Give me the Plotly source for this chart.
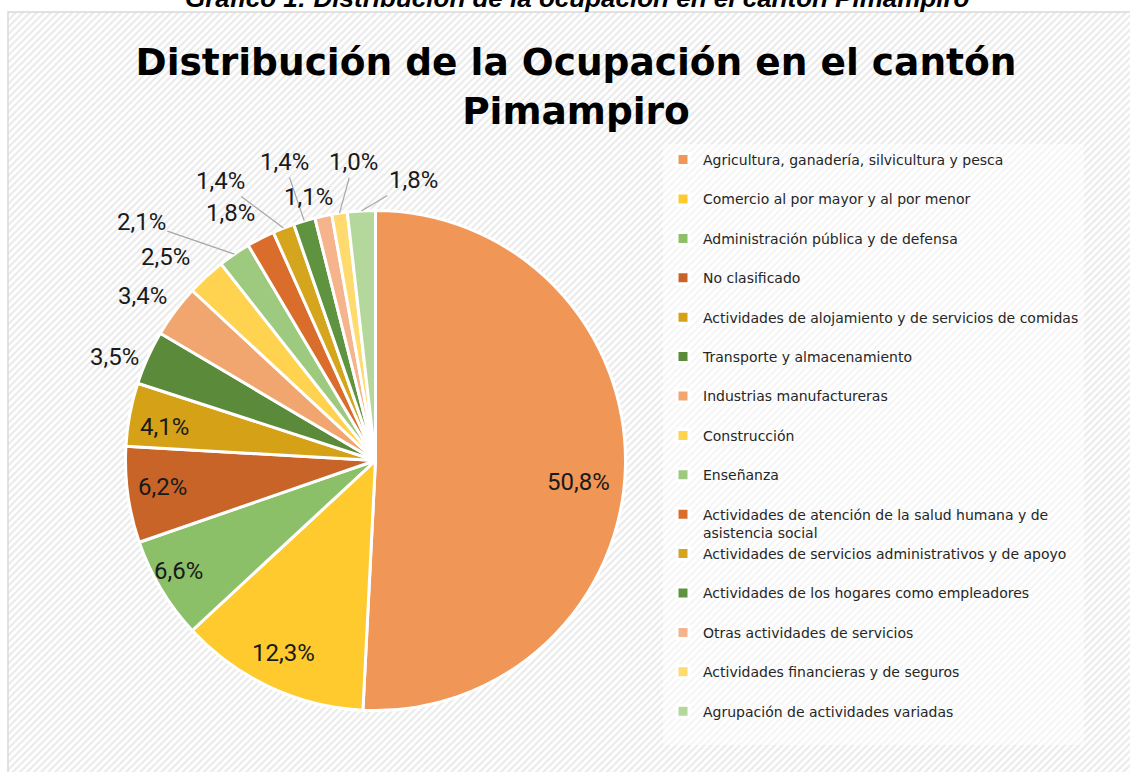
import math
import plotly.graph_objects as go

# ---------------- data ----------------
categories = [
    "Agricultura, ganadería, silvicultura y pesca",
    "Comercio al por mayor y al por menor",
    "Administración pública y de defensa",
    "No clasificado",
    "Actividades de alojamiento y de servicios de comidas",
    "Transporte y almacenamiento",
    "Industrias manufactureras",
    "Construcción",
    "Enseñanza",
    "Actividades de atención de la salud humana y de asistencia social",
    "Actividades de servicios administrativos y de apoyo",
    "Actividades de los hogares como empleadores",
    "Otras actividades de servicios",
    "Actividades financieras y de seguros",
    "Agrupación de actividades variadas",
]
percentages = [50.8, 12.3, 6.6, 6.2, 4.1, 3.5, 3.4, 2.5, 2.1, 1.8, 1.4, 1.4, 1.1, 1.0, 1.8]

title_text = "Distribución de la Ocupación en el cantón<br>Pimampiro"
caption_text = "Gráfico 1: Distribución de la ocupación en el cantón Pimampiro"

# ---------------- style ----------------
colors = ["#F09657", "#FFCA2E", "#8CC068", "#C86428", "#D4A117", "#5A8A3A",
          "#F2A66F", "#FFD34F", "#9DCA7F", "#DA6C2C", "#D6A51E", "#5F9340",
          "#F5B48C", "#FFDA6E", "#B4D89C"]
# label placement relative to the slice's outer-edge point (pixels), leader-line flag
label_offsets = [(-47, 15), (14, -34), (17, -18), (35, -8), (35, 13),
                 (-33, -1), (-33, -15), (-41, -20), (-93, -32), (-30, -25),
                 (-63, -47), (-20, -59), (-15, -19), (14, -51), (52, -31)]
leader = [False] * 8 + [True, False, True, True, False, True, True]

W, H = 1130, 772
cx, cy, R = 375.5, 460.5, 250


def legend_label(name):
    # Excel style: every legend entry takes two lines
    if name.startswith("Actividades de atención"):
        return "Actividades de atención de la salud humana y de<br>asistencia social"
    return name + "<br> "


fig = go.Figure()

# hatched chart-area background (decoration)
fig.add_trace(go.Scatter(
    x=[8 / W, 1.01, 1.01, 8 / W, 8 / W], y=[-0.01, -0.01, 1 - 12 / H, 1 - 12 / H, -0.01],
    fill="toself", mode="lines", line=dict(width=0, color="rgba(0,0,0,0)"),
    fillcolor="white",
    fillpattern=dict(shape="/", fgcolor="#D6D6D6", bgcolor="white", size=5, solidity=0.45),
    hoverinfo="skip", showlegend=False, xaxis="x", yaxis="y"))

fig.add_trace(go.Pie(
    labels=[legend_label(c) for c in categories],
    values=percentages,
    sort=False,
    direction="clockwise",
    rotation=0,
    marker=dict(colors=colors, line=dict(color="white", width=3)),
    textinfo="none",
    domain=dict(x=[(cx - R) / W, (cx + R) / W], y=[1 - (cy + R) / H, 1 - (cy - R) / H]),
    hoverinfo="label+percent",
))

# data labels: positioned from each slice's mid angle
annotations = []
total = sum(percentages)
cum = 0.0
for v, (dx, dy), ld in zip(percentages, label_offsets, leader):
    mid = math.radians((cum + v / 2) / total * 360.0)
    cum += v
    ex = cx + R * math.sin(mid)
    ey = cy - R * math.cos(mid)
    txt = f"{v:.1f}".replace(".", ",") + "%"
    common = dict(text=txt, xref="paper", yref="paper", x=ex / W, y=1 - ey / H,
                  font=dict(family="Roboto", size=24, color="#1a1a1a"),
                  xanchor="center", yanchor="middle")
    if ld:
        annotations.append(dict(**common, showarrow=True, ax=dx, ay=dy, axref="pixel", ayref="pixel",
                                arrowhead=0, arrowwidth=1.2, arrowcolor="#A6A6A6", standoff=0))
    else:
        annotations.append(dict(**common, showarrow=False, xshift=dx, yshift=-dy))

annotations.append(dict(text="<b><i>" + caption_text + "</i></b>", xref="paper", yref="paper",
                        x=577 / W, y=1 - 15 / H, xanchor="center", yanchor="bottom",
                        showarrow=False,
                        font=dict(family="Liberation Sans", size=26, color="#000000")))

fig.update_layout(
    width=W, height=H,
    margin=dict(l=0, r=0, t=0, b=0),
    paper_bgcolor="white",
    plot_bgcolor="rgba(0,0,0,0)",
    xaxis=dict(domain=[0, 1], range=[0, 1], visible=False, fixedrange=True),
    yaxis=dict(domain=[0, 1], range=[0, 1], visible=False, fixedrange=True),
    title=dict(text=title_text, x=576 / W, xanchor="center", y=1 - 75 / H, yanchor="top",
               font=dict(family="DejaVu Sans", size=37.5, color="#000000", weight="bold")),
    legend=dict(x=663 / W, xanchor="left", y=1 - 144 / H, yanchor="top",
                font=dict(family="DejaVu Sans", size=14, color="#262626"),
                bgcolor="rgba(255,255,255,0.5)", valign="top", traceorder="normal"),
    showlegend=True,
    annotations=annotations,
    shapes=[dict(type="rect", xref="paper", yref="paper", x0=8 / W, x1=1.02,
                 y0=-0.02, y1=1 - 12 / H, line=dict(color="#D9D9D9", width=1.5),
                 fillcolor="rgba(0,0,0,0)", layer="above")],
)

fig.write_html("out.html", config={"displayModeBar": False},
               post_script="document.body.style.margin='0';")
